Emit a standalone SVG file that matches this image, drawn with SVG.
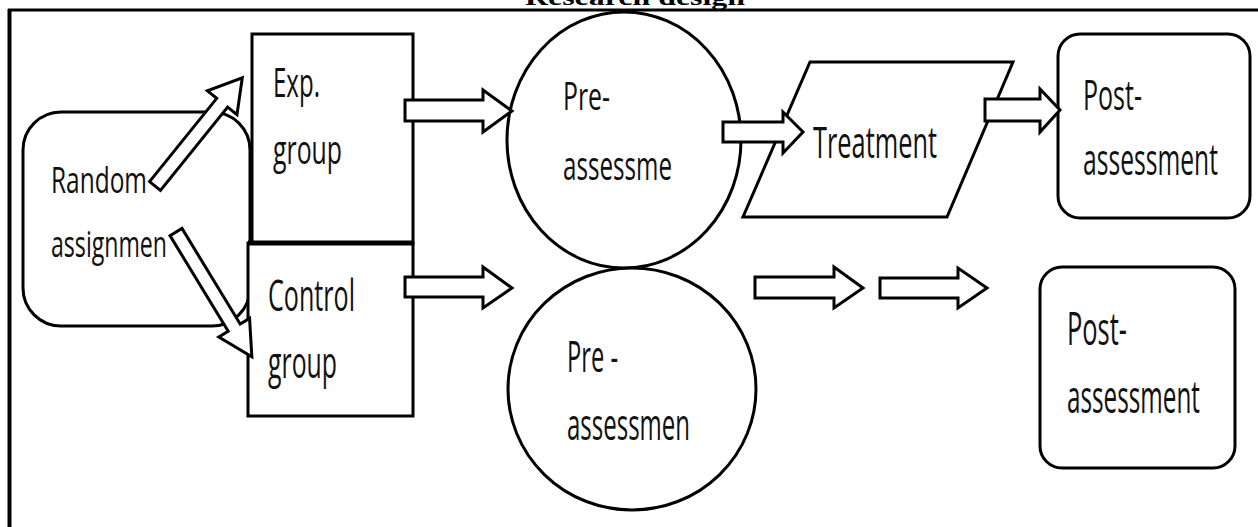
<svg xmlns="http://www.w3.org/2000/svg" width="1258" height="527" viewBox="0 0 1258 527">
<style>
.shape{fill:#fff;stroke:#000;stroke-width:3}
.arrow{fill:#fff;stroke:#000;stroke-width:3;stroke-linejoin:miter}
.lbl{font-family:"Open Sans","Liberation Sans",sans-serif;fill:#111}
.title{font-family:"Liberation Serif",serif;font-weight:bold;fill:#000}
</style>
<rect x="0" y="0" width="1258" height="527" fill="#fff"/>
<g id="frame">
<text class="title" x="525" y="5" font-size="24" textLength="220" lengthAdjust="spacingAndGlyphs">Research design</text>
<line x1="8" y1="10" x2="1258" y2="10" stroke="#000" stroke-width="3"/>
<line x1="9.5" y1="9" x2="9.5" y2="527" stroke="#000" stroke-width="4"/>
</g>
<g id="random">
<rect class="shape" x="23" y="112" width="227" height="214" rx="38"/>
<text class="lbl" x="51" y="193" font-size="36" textLength="96" lengthAdjust="spacingAndGlyphs">Random</text>
<text class="lbl" x="51" y="257" font-size="36" textLength="116" lengthAdjust="spacingAndGlyphs">assignmen</text>
</g>
<g id="exp">
<rect class="shape" x="252" y="34" width="161" height="209"/>
<text class="lbl" x="273" y="97" font-size="41" textLength="47" lengthAdjust="spacingAndGlyphs">Exp.</text>
<text class="lbl" x="273" y="164" font-size="41" textLength="69" lengthAdjust="spacingAndGlyphs">group</text>
</g>
<g id="control">
<rect class="shape" x="248" y="243" width="165" height="173"/>
<line x1="248" y1="243" x2="413" y2="243" stroke="#000" stroke-width="5"/>
<text class="lbl" x="268" y="311" font-size="44" textLength="87" lengthAdjust="spacingAndGlyphs">Control</text>
<text class="lbl" x="268" y="378" font-size="43" textLength="69" lengthAdjust="spacingAndGlyphs">group</text>
</g>
<g id="pre1">
<ellipse class="shape" cx="624" cy="140" rx="117" ry="128"/>
<text class="lbl" x="563" y="110" font-size="38" textLength="47" lengthAdjust="spacingAndGlyphs">Pre-</text>
<text class="lbl" x="563" y="180" font-size="41" textLength="109" lengthAdjust="spacingAndGlyphs">assessme</text>
</g>
<g id="pre2">
<ellipse class="shape" cx="632" cy="389" rx="124" ry="121"/>
<text class="lbl" x="567" y="372" font-size="44" textLength="51" lengthAdjust="spacingAndGlyphs">Pre -</text>
<text class="lbl" x="567" y="440" font-size="43" textLength="123" lengthAdjust="spacingAndGlyphs">assessmen</text>
</g>
<g id="treatment">
<polygon class="shape" points="810,62 1013,62 947,217 743,217"/>
<text class="lbl" x="813" y="158" font-size="44" textLength="124" lengthAdjust="spacingAndGlyphs">Treatment</text>
</g>
<g id="post1">
<rect class="shape" x="1058" y="34" width="192" height="184" rx="22"/>
<text class="lbl" x="1083" y="110" font-size="42" textLength="59" lengthAdjust="spacingAndGlyphs">Post-</text>
<text class="lbl" x="1083" y="175" font-size="44" textLength="135" lengthAdjust="spacingAndGlyphs">assessment</text>
</g>
<g id="post2">
<rect class="shape" x="1040" y="267" width="195" height="201" rx="22"/>
<text class="lbl" x="1067" y="345" font-size="45" textLength="60" lengthAdjust="spacingAndGlyphs">Post-</text>
<text class="lbl" x="1067" y="413" font-size="46" textLength="133" lengthAdjust="spacingAndGlyphs">assessment</text>
</g>
<g id="connectors">
<polygon class="arrow" transform="translate(155,186) rotate(-51.1)" points="0,-7 107,-7 107,-19 139,0 107,19 107,7 0,7"/>
<polygon class="arrow" transform="translate(176,232) rotate(58.7)" points="0,-7 112,-7 112,-18 146,0 112,18 112,7 0,7"/>
<polygon class="arrow" points="405,100 483,100 483,90 512,111 483,132 483,121 405,121"/>
<polygon class="arrow" points="405,277 483,277 483,267 512,288 483,308 483,297 405,297"/>
<polygon class="arrow" points="723,122 783,122 783,112 803,132 783,153 783,142 723,142"/>
<polygon class="arrow" points="985,99 1040,99 1040,89 1060,110 1040,132 1040,121 985,121"/>
<polygon class="arrow" points="755,277 834,277 834,267 863,288 834,308 834,298 755,298"/>
<polygon class="arrow" points="880,278 958,278 958,268 987,288 958,308 958,298 880,298"/>
</g>
</svg>
